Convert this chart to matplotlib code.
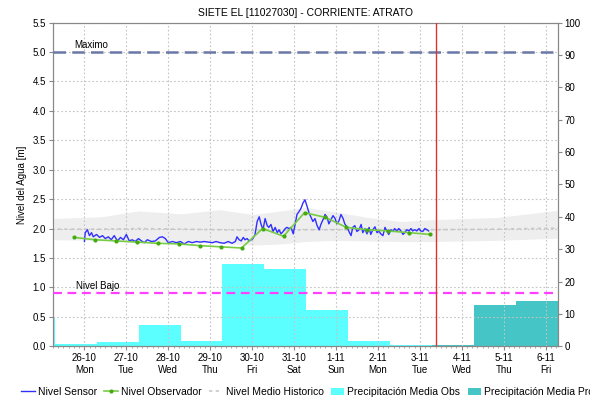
'''
Nivel y precipitacion - estacion SIETE EL, rio Atrato.
'''

import matplotlib.pyplot as plt
import numpy as np

plt.rcParams['font.family'] = ['Liberation Sans', 'DejaVu Sans']

TITLE = 'SIETE EL [11027030] - CORRIENTE: ATRATO'

# days counted from 26-10 00:00
DAY_TICKS = list(range(12))
DAY_LABELS = ['26-10\nMon', '27-10\nTue', '28-10\nWed', '29-10\nThu', '30-10\nFri',
              '31-10\nSat', '1-11\nSun', '2-11\nMon', '3-11\nTue', '4-11\nWed',
              '5-11\nThu', '6-11\nFri']

SENSOR_T = [0.0, 0.02, 0.07, 0.12, 0.17, 0.21, 0.29, 0.36, 0.43, 0.5, 0.57, 0.64,
            0.71, 0.79, 0.86, 0.93, 1.0, 1.07, 1.14, 1.21, 1.29, 1.36, 1.43, 1.5,
            1.6, 1.69, 1.79, 1.86, 1.93, 2.0, 2.1, 2.19, 2.29, 2.38, 2.48, 2.57,
            2.67, 2.76, 2.86, 2.95, 3.05, 3.14, 3.24, 3.33, 3.43, 3.52, 3.6, 3.64,
            3.69, 3.74, 3.79, 3.83, 3.88, 3.93, 3.98, 4.02, 4.07, 4.12, 4.17, 4.21,
            4.26, 4.31, 4.36, 4.40, 4.45, 4.5, 4.55, 4.6, 4.64, 4.69, 4.74, 4.79,
            4.83, 4.88, 4.93, 4.98, 5.02, 5.07, 5.12, 5.17, 5.21, 5.26, 5.31, 5.36,
            5.40, 5.45, 5.5, 5.55, 5.6, 5.64, 5.69, 5.74, 5.79, 5.83, 5.88, 5.93,
            5.98, 6.02, 6.07, 6.12, 6.17, 6.21, 6.26, 6.31, 6.36, 6.40, 6.45, 6.5,
            6.55, 6.6, 6.64, 6.69, 6.74, 6.79, 6.83, 6.88, 6.93, 6.98, 7.02, 7.07,
            7.12, 7.17, 7.21, 7.26, 7.31, 7.36, 7.40, 7.45, 7.5, 7.55, 7.6, 7.64,
            7.69, 7.74, 7.79, 7.83, 7.88, 7.93, 7.98, 8.02, 8.07, 8.12, 8.17, 8.21]
SENSOR_M = [1.78, 1.93, 1.98, 1.88, 1.93, 1.86, 1.90, 1.85, 1.88, 1.83, 1.86, 1.81,
            1.88, 1.79, 1.85, 1.81, 1.90, 1.79, 1.81, 1.78, 1.83, 1.79, 1.76, 1.81,
            1.78, 1.79, 1.85, 1.86, 1.83, 1.76, 1.78, 1.76, 1.78, 1.74, 1.78, 1.76,
            1.78, 1.77, 1.78, 1.77, 1.76, 1.78, 1.76, 1.75, 1.78, 1.75, 1.78, 1.86,
            1.81, 1.79, 1.85, 1.81, 1.83, 1.79, 1.81, 1.83, 1.90, 2.12, 2.20, 2.08,
            1.98, 2.17, 2.05, 2.02, 2.07, 1.95, 2.02, 1.93, 1.98, 1.91, 1.95, 2.00,
            2.02, 2.00, 2.02, 1.91, 2.05, 2.24, 2.29, 2.35, 2.43, 2.49, 2.38, 2.26,
            2.20, 2.12, 2.17, 2.05, 1.98, 2.07, 2.15, 2.24, 2.19, 2.08, 2.15, 2.22,
            2.17, 2.08, 2.13, 2.24, 2.17, 2.08, 2.03, 1.95, 1.88, 2.02, 2.05, 1.95,
            1.98, 2.07, 1.93, 2.00, 1.91, 2.02, 1.90, 1.98, 2.03, 1.93, 1.96, 1.91,
            1.88, 2.02, 1.96, 1.90, 1.98, 1.95, 2.00, 1.96, 2.00, 1.96, 1.90, 1.93,
            1.98, 1.96, 2.00, 1.96, 1.98, 1.96, 2.00, 1.96, 1.95, 2.00, 1.98, 1.96]

# observer readings at 06:00 and 18:00
OBS_T = [-0.25, 0.25, 0.75, 1.25, 1.75, 2.25, 2.75, 3.25, 3.75,
         4.25, 4.75, 5.25, 5.75, 6.25, 6.75, 7.25, 7.75, 8.25]
OBS_M = [1.85, 1.81, 1.79, 1.77, 1.75, 1.74, 1.71, 1.69, 1.67,
         2.00, 1.87, 2.27, 2.19, 2.02, 1.98, 1.96, 1.93, 1.90]

HIST_T = [-0.8, 0.4, 1.29, 2.31, 3.21, 4.02, 4.7, 5.29, 6.0, 6.76, 7.55, 8.26, 9.86, 11.4]
HIST_TOP = [2.17, 2.20, 2.30, 2.25, 2.32, 2.24, 2.30, 2.36, 2.28, 2.19, 2.12, 2.15, 2.19, 2.32]
HIST_BOT = [1.81, 1.80, 1.79, 1.78, 1.75, 1.72, 1.74, 1.78, 1.80, 1.79, 1.78, 1.78, 1.80, 1.84]
HIST_MEAN = [1.99, 1.99, 2.00, 1.99, 1.98, 1.97, 1.97, 1.98, 1.98, 1.98, 1.98, 1.98, 1.99, 2.01]

# daily rain, 07:00 to 07:00
RAIN_OBS_START = [-1.708, -0.708, 0.292, 1.292, 2.292, 3.292, 4.292, 5.292, 6.292, 7.292]
RAIN_OBS_MM = [9.0, 0.6, 1.3, 6.5, 1.5, 25.3, 24.0, 11.1, 1.5, 0.4]
RAIN_PRON_START = [8.292, 9.292, 10.292]
RAIN_PRON_MM = [0.5, 12.8, 14.0]

NIVEL_MAXIMO = 5.0
NIVEL_BAJO = 0.91
NOW = 8.38

fig = plt.figure(figsize=(5.9, 4.05), dpi=100)
ax = fig.add_axes([0.0898, 0.1449, 0.8555, 0.7995])
ax2 = ax.twinx()

ax.set_zorder(ax2.get_zorder() + 1)
ax.patch.set_visible(False)

# rain bars on right axis
ax2.bar(RAIN_OBS_START, RAIN_OBS_MM, width=1.0, align='edge', color='#5CFFFF',
        linewidth=0, label='Precipitación Media Obs')
ax2.bar(RAIN_PRON_START, RAIN_PRON_MM, width=1.0, align='edge', color='#45C5C5',
        linewidth=0, label='Precipitación Media Pro')
ax2.set_ylim(0, 100)
ax2.set_yticks(np.arange(0, 101, 10))
ax2.set_ylabel('Precipitación [mm]', fontsize=7, rotation=270, labelpad=10)
ax2.yaxis.set_label_coords(1.085, 0.5)

# historical band
ax.fill_between(HIST_T, HIST_BOT, HIST_TOP, color='#EEEEEE', linewidth=0, zorder=1)
ax.plot(HIST_T, HIST_MEAN, color='#C8C8C8', linestyle=(0, (2, 2)), linewidth=1.2,
        label='Nivel Medio Historico', zorder=2)

ax.axhline(NIVEL_MAXIMO, color='#6A78A8', linestyle=(0, (5, 2.5)), linewidth=1.8, zorder=3)
ax.axhline(NIVEL_BAJO, color='#FF40FF', linestyle=(0, (4, 2.5)), linewidth=1.6, zorder=3)
ax.text(-0.25, NIVEL_MAXIMO + 0.03, 'Maximo', fontsize=7, ha='left', va='bottom')
ax.text(-0.2, NIVEL_BAJO + 0.03, 'Nivel Bajo', fontsize=7, ha='left', va='bottom')

ax.plot(SENSOR_T, SENSOR_M, color='#3030FF', linewidth=1.0, label='Nivel Sensor', zorder=5)
ax.plot(OBS_T, OBS_M, color='#77CC44', linewidth=1.2, marker='o', markersize=3,
        markerfacecolor='#44AA11', markeredgewidth=0, label='Nivel Observador', zorder=6)

ax.axvline(NOW, color='#DD3333', linewidth=1.0, zorder=7)

ax.set_xlim(-0.75, 11.29)
ax.set_ylim(0, 5.5)
ax.set_yticks(np.arange(0, 5.51, 0.5))
ax.set_yticklabels(['{:.1f}'.format(v) for v in np.arange(0, 5.51, 0.5)])
ax.set_xticks(DAY_TICKS)
ax.set_xticklabels(DAY_LABELS)
ax.set_xticks(np.arange(-0.75, 11.3, 0.125), minor=True)
ax.set_ylabel('Nivel del Agua [m]', fontsize=7, labelpad=4)
ax.grid(True, color='#C4C4C4', linestyle=(0, (1.5, 2)), linewidth=0.8)

ax.tick_params(axis='both', labelsize=7, length=3, width=0.8, color='#888888', pad=2)
ax.tick_params(axis='x', which='minor', length=1.5, width=0.5, color='#888888')
ax2.tick_params(axis='y', labelsize=7, length=3, width=0.8, color='#888888', pad=2)
for a in (ax, ax2):
    for s in a.spines.values():
        s.set_color('#888888')
        s.set_linewidth(0.8)

ax.set_title(TITLE, fontsize=7.5, pad=5)

h1, l1 = ax.get_legend_handles_labels()
h2, l2 = ax2.get_legend_handles_labels()
order = [l1.index('Nivel Sensor'), l1.index('Nivel Observador'), l1.index('Nivel Medio Historico')]
handles = [h1[i] for i in order] + h2
labels = [l1[i] for i in order] + l2
fig.legend(handles, labels, loc='center left', bbox_to_anchor=(0.02, 0.032), ncol=5,
           fontsize=7.5, frameon=False, handlelength=1.3, handletextpad=0.3,
           columnspacing=0.7)

plt.savefig('out.png', dpi=100)
